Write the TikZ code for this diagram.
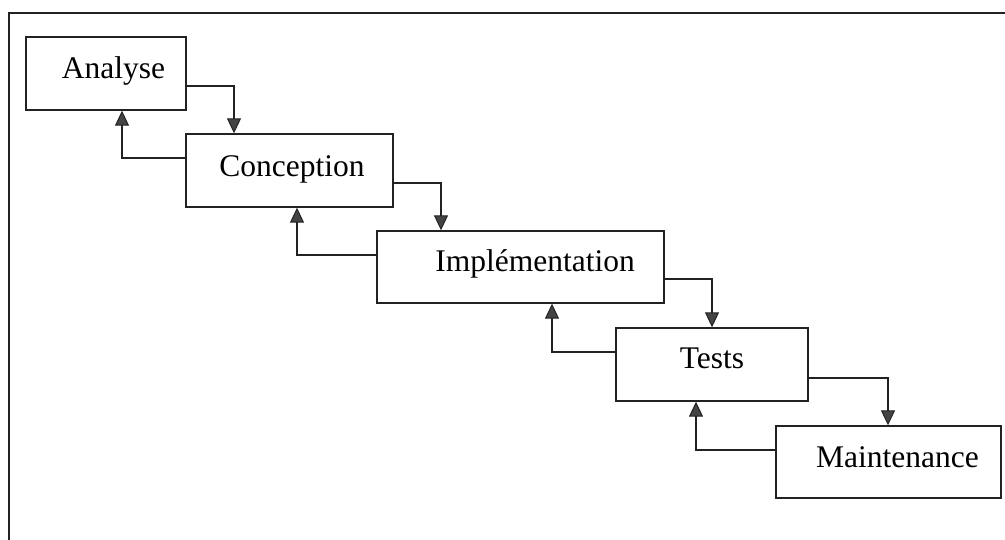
\documentclass[tikz,border=0pt]{standalone}
\usepackage{fontspec}
\setmainfont{Liberation Serif}
\usetikzlibrary{arrows.meta}
\definecolor{tipgray}{HTML}{444444}
\definecolor{linegray}{HTML}{222222}
\begin{document}
\begin{tikzpicture}[x=1pt,y=-1pt,
  stagebox/.style={draw=linegray,line width=1.4pt,rectangle,inner sep=0pt},
  lab/.style={anchor=base,inner sep=0pt,font=\fontsize{31.5}{36}\selectfont},
  arr/.style={draw=linegray,line width=1.3pt,-{Triangle[width=14pt,length=15pt,fill=tipgray,line width=1pt]}}]
\useasboundingbox (0,0) rectangle (1005,540);
\fill[white] (0,0) rectangle (1005,540);
% frame
\draw[linegray,line width=1.5pt] (9,540) -- (9,13) -- (1005,13);
% boxes
\node[stagebox,minimum width=160pt,minimum height=73pt] (analyse) at (106,73.5) {};
\node[stagebox,minimum width=207pt,minimum height=73pt] (conception) at (289.5,170.5) {};
\node[stagebox,minimum width=287pt,minimum height=72pt] (impl) at (520.5,267) {};
\node[stagebox,minimum width=192pt,minimum height=73pt] (tests) at (712,364.5) {};
\node[stagebox,minimum width=225pt,minimum height=72pt] (maint) at (888.5,462) {};
% labels
\node[lab] (tA) at (113.5,79) {Analyse};
\node[lab] (tC) at (292,177) {Conception};
\node[lab] (tI) at (535,272) {Implémentation};
\node[lab] (tT) at (712,369) {Tests};
\node[lab] (tM) at (897.5,467) {Maintenance};
% forward arrows
\draw[arr] (analyse.east |- 0,86) -| (conception.north -| 234,0);
\draw[arr] (conception.east |- 0,183) -| (impl.north -| 441,0);
\draw[arr] (impl.east |- 0,279) -| (tests.north -| 712,0);
\draw[arr] (tests.east |- 0,378) -| (maint.north -| 888,0);
% backward arrows
\draw[arr] (conception.west |- 0,158) -| (analyse.south -| 122,0);
\draw[arr] (impl.west |- 0,255) -| (conception.south -| 297,0);
\draw[arr] (tests.west |- 0,352) -| (impl.south -| 552,0);
\draw[arr] (maint.west |- 0,450) -| (tests.south -| 696,0);
\end{tikzpicture}
\end{document}
